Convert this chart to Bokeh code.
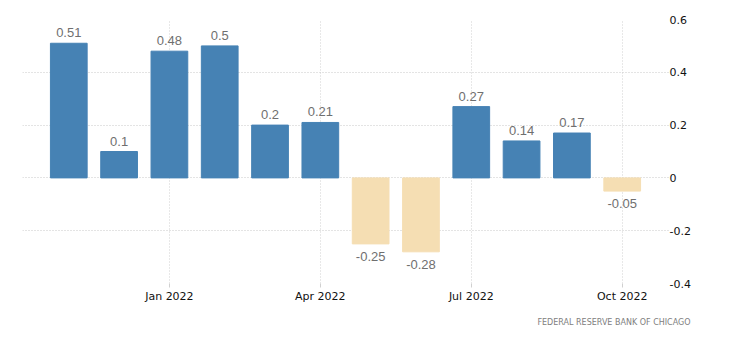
from bokeh.plotting import figure
from bokeh.models import ColumnDataSource, FixedTicker, LabelSet, Range1d, Title
from bokeh.core.properties import value
from bokeh.embed import file_html
from bokeh.resources import INLINE

months = ["Nov 2021", "Dec 2021", "Jan 2022", "Feb 2022", "Mar 2022", "Apr 2022",
          "May 2022", "Jun 2022", "Jul 2022", "Aug 2022", "Sep 2022", "Oct 2022"]
values = [0.51, 0.1, 0.48, 0.5, 0.2, 0.21, -0.25, -0.28, 0.27, 0.14, 0.17, -0.05]
x_tick_idx = [2, 5, 8, 11]
x_tick_labels = ["Jan 2022", "Apr 2022", "Jul 2022", "Oct 2022"]
y_ticks = [-0.4, -0.2, 0, 0.2, 0.4, 0.6]
source_text = "FEDERAL RESERVE BANK OF CHICAGO"

pos_color = "#4682b4"
neg_color = "#f5deb3"

xs = list(range(len(values)))
src = ColumnDataSource(dict(
    x=xs,
    top=values,
    color=[pos_color if v >= 0 else neg_color for v in values],
))

p = figure(width=730, height=351, output_backend="svg", toolbar_location=None,
           x_range=Range1d(-0.92, 11.96), y_range=Range1d(-0.4, 0.6),
           y_axis_location="right", min_border_left=22, min_border_top=19,
           min_border_right=60, min_border_bottom=68)
p.outline_line_color = None
p.background_fill_color = "white"
p.border_fill_color = "white"

p.vbar(x="x", top="top", bottom=0, width=0.73, color="color", source=src)

pos_src = ColumnDataSource(dict(x=[x for x, v in zip(xs, values) if v >= 0],
                                y=[v for v in values if v >= 0],
                                t=[("%g" % v) for v in values if v >= 0]))
neg_src = ColumnDataSource(dict(x=[x for x, v in zip(xs, values) if v < 0],
                                y=[v for v in values if v < 0],
                                t=[("%g" % v) for v in values if v < 0]))
p.add_layout(LabelSet(x="x", y="y", text="t", source=pos_src, y_offset=6,
                      text_align="center", text_baseline="bottom",
                      text_font=value("Liberation Sans"), text_font_size=value("13px"),
                      text_color=value("#6f6f6f")))
p.add_layout(LabelSet(x="x", y="y", text="t", source=neg_src, y_offset=-8,
                      text_align="center", text_baseline="top",
                      text_font=value("Liberation Sans"), text_font_size=value("13px"),
                      text_color=value("#6f6f6f")))

# axes
xa = p.xaxis[0]
xa.ticker = FixedTicker(ticks=x_tick_idx)
xa.major_label_overrides = {i: l for i, l in zip(x_tick_idx, x_tick_labels)}
xa.axis_line_color = None
xa.major_tick_in = 0
xa.major_tick_out = 4
xa.major_tick_line_color = "#d0d0d0"
xa.minor_tick_line_color = None
xa.major_label_text_font = "DejaVu Sans"
xa.major_label_text_font_size = "11px"
xa.major_label_text_color = "#111111"
xa.major_label_standoff = 2

ya = p.yaxis[0]
ya.ticker = FixedTicker(ticks=y_ticks)
ya.major_label_overrides = {-0.4: "-0.4", -0.2: "-0.2", 0: "0", 0.2: "0.2", 0.4: "0.4", 0.6: "0.6"}
ya.axis_line_color = None
ya.major_tick_line_color = None
ya.major_tick_in = 0
ya.major_tick_out = 0
ya.minor_tick_line_color = None
ya.minor_tick_in = 0
ya.minor_tick_out = 0
ya.major_label_text_font = "DejaVu Sans"
ya.major_label_text_font_size = "11px"
ya.major_label_text_color = "#111111"
ya.major_label_standoff = -1

p.xgrid.grid_line_color = "#d0d0d0"
p.xgrid.grid_line_dash = "1 2"
p.ygrid.grid_line_color = "#c8c8c8"
p.ygrid.grid_line_dash = "1 2"

p.add_layout(Title(text=source_text, align="right", offset=-20, standoff=20,
                   text_font="DejaVu Sans", text_font_size="8px",
                   text_font_style="normal", text_color="#808080"), "below")

open("out.html", "w").write(file_html(p, INLINE))
